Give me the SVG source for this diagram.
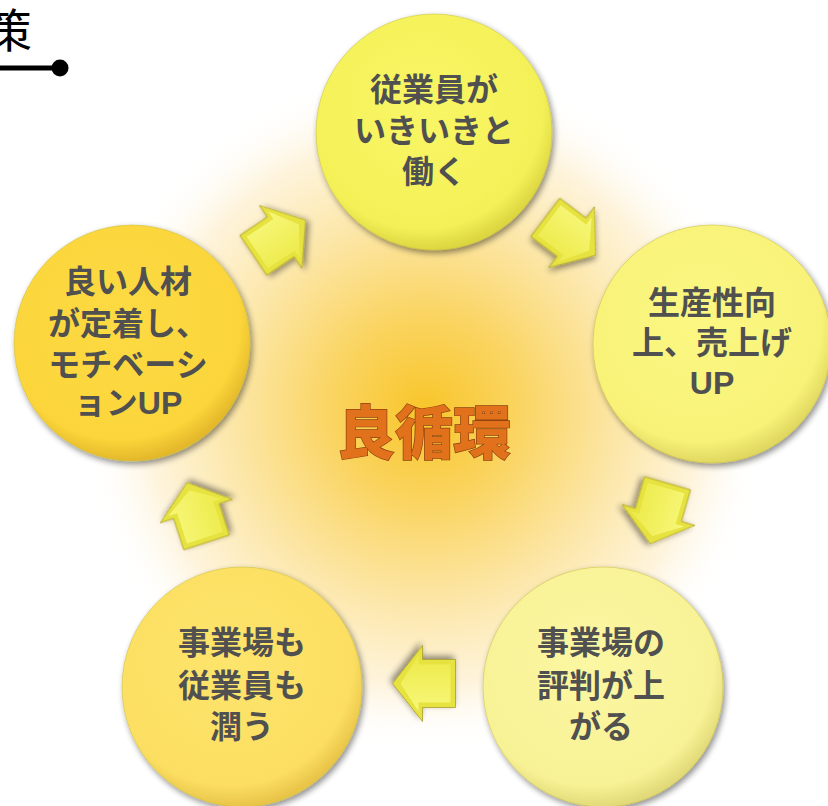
<svg xmlns="http://www.w3.org/2000/svg" width="828" height="806" viewBox="0 0 828 806">
<defs>
  <radialGradient id="glow" cx="425" cy="410" r="345" gradientUnits="userSpaceOnUse">
    <stop offset="0" stop-color="#f8c52a"/>
    <stop offset="0.25" stop-color="#fad35c"/>
    <stop offset="0.55" stop-color="#fce6a6"/>
    <stop offset="0.8" stop-color="#fef4dc"/>
    <stop offset="1" stop-color="#ffffff" stop-opacity="0"/>
  </radialGradient>
  <radialGradient id="gTop" cx="0.45" cy="0.4" r="0.6">
    <stop offset="0" stop-color="#f8f666"/>
    <stop offset="0.85" stop-color="#f4f158"/>
    <stop offset="1" stop-color="#dcd640"/>
  </radialGradient>
  <radialGradient id="gRight" cx="0.45" cy="0.4" r="0.6">
    <stop offset="0" stop-color="#fbf782"/>
    <stop offset="0.85" stop-color="#f8f278"/>
    <stop offset="1" stop-color="#e0d860"/>
  </radialGradient>
  <radialGradient id="gBR" cx="0.45" cy="0.4" r="0.6">
    <stop offset="0" stop-color="#fbf7a2"/>
    <stop offset="0.85" stop-color="#f8f296"/>
    <stop offset="1" stop-color="#e2da78"/>
  </radialGradient>
  <radialGradient id="gBL" cx="0.45" cy="0.4" r="0.6">
    <stop offset="0" stop-color="#fde46c"/>
    <stop offset="0.85" stop-color="#fcdf62"/>
    <stop offset="1" stop-color="#e8c448"/>
  </radialGradient>
  <radialGradient id="gLeft" cx="0.45" cy="0.4" r="0.6">
    <stop offset="0" stop-color="#fdda44"/>
    <stop offset="0.85" stop-color="#fbd53a"/>
    <stop offset="1" stop-color="#e4b82a"/>
  </radialGradient>
  <linearGradient id="gArrow" x1="0" y1="0" x2="0" y2="1">
    <stop offset="0" stop-color="#f8f77a"/>
    <stop offset="1" stop-color="#ecea48"/>
  </linearGradient>
  <filter id="shadow" x="-20%" y="-20%" width="140%" height="140%">
    <feGaussianBlur in="SourceAlpha" stdDeviation="3"/>
    <feOffset dx="2" dy="3" result="b"/>
    <feComponentTransfer><feFuncA type="linear" slope="0.45"/></feComponentTransfer>
    <feMerge><feMergeNode/><feMergeNode in="SourceGraphic"/></feMerge>
  </filter>
  <path id="arrow" d="M -31,-24 L 2,-24 L 2,-38 L 32,0 L 2,38 L 2,24 L -31,24 Z"/>
  <path id="arrowIn" d="M -26,-19 L 6,-19 L 6,-28 L 24,0 L 6,28 L 6,19 L -26,19 Z"/>
</defs>
<style>
  .node { filter: url(#shadow); stroke: #c8bc3a; stroke-opacity: 0.5; stroke-width: 1; }
  .lbl { font-family: "Liberation Sans", "Noto Sans CJK JP", sans-serif; font-weight: 700; font-size: 32px; fill: #505050; text-anchor: middle; }
  .arr { fill: #e6e240; stroke: #a89e2a; stroke-width: 0.8; filter: url(#shadow); }
  .arrIn { fill: url(#gArrow); }
</style>
<rect x="0" y="0" width="828" height="806" fill="#ffffff"/>
<circle cx="425" cy="410" r="345" fill="url(#glow)"/>

<g id="title">
  <text x="-14" y="47" font-family="Noto Sans CJK JP, sans-serif" font-size="46" fill="#000000">策</text>
  <line x1="0" y1="68" x2="60" y2="68" stroke="#000000" stroke-width="5"/>
  <circle cx="60" cy="68" r="8.5" fill="#000000"/>
</g>

<g id="connectors">
  <g transform="translate(279,238) rotate(-34)"><use href="#arrow" class="arr"/><use href="#arrowIn" class="arrIn"/></g>
  <g transform="translate(570,236) rotate(37)"><use href="#arrow" class="arr"/><use href="#arrowIn" class="arrIn"/></g>
  <g transform="translate(659,513) rotate(106)"><use href="#arrow" class="arr"/><use href="#arrowIn" class="arrIn"/></g>
  <g transform="translate(424.5,683.5) rotate(180)"><use href="#arrow" class="arr"/><use href="#arrowIn" class="arrIn"/></g>
  <g transform="translate(197,513) rotate(-108)"><use href="#arrow" class="arr"/><use href="#arrowIn" class="arrIn"/></g>
</g>

<g id="node-top">
  <circle cx="434" cy="132" r="118" fill="url(#gTop)" class="node"/>
  <text class="lbl" x="434" y="101">従業員が<tspan x="434" dy="41">いきいきと</tspan><tspan x="434" dy="41">働く</tspan></text>
</g>

<g id="node-right">
  <circle cx="712" cy="344" r="119" fill="url(#gRight)" class="node"/>
  <text class="lbl" x="712" y="314">生産性向<tspan x="712" dy="40">上、売上げ</tspan><tspan x="712" dy="40">UP</tspan></text>
</g>

<g id="node-bottom-right">
  <circle cx="603" cy="687" r="120" fill="url(#gBR)" class="node"/>
  <text class="lbl" x="601" y="654">事業場の<tspan x="601" dy="43">評判が上</tspan><tspan x="601" dy="41">がる</tspan></text>
</g>

<g id="node-bottom-left">
  <circle cx="242" cy="687" r="120" fill="url(#gBL)" class="node"/>
  <text class="lbl" x="242" y="654">事業場も<tspan x="242" dy="43">従業員も</tspan><tspan x="242" dy="41">潤う</tspan></text>
</g>

<g id="node-left">
  <circle cx="132" cy="343" r="118" fill="url(#gLeft)" class="node"/>
  <text class="lbl" x="128" y="293">良い人材<tspan x="128" dy="42">が定着し、</tspan><tspan x="128" dy="41">モチベーシ</tspan><tspan x="128" dy="38">ョンUP</tspan></text>
</g>

<g id="center">
  <text x="424" y="454" font-family="Noto Sans CJK JP, sans-serif" font-weight="900" font-size="58" fill="#e2711c" stroke="#8e4210" stroke-width="1.4" paint-order="stroke" text-anchor="middle">良循環</text>
</g>
</svg>
